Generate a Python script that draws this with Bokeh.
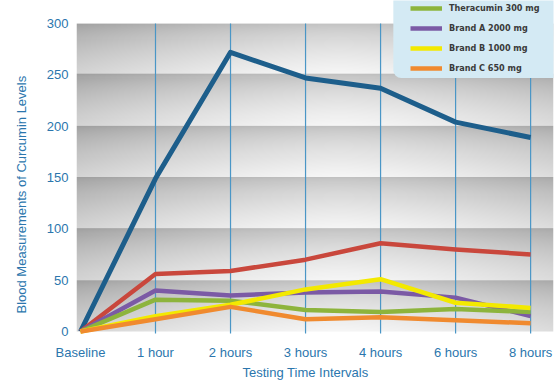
import numpy as np
from bokeh.plotting import figure
from bokeh.models import Range1d, Legend, LegendItem, FixedTicker, Title, BoxAnnotation
from bokeh.embed import file_html
from bokeh.resources import INLINE

# ---- data ----
categories = ["Baseline", "1 hour", "2 hours", "3 hours", "4 hours", "6 hours", "8 hours"]
series_blue = [0, 149, 272, 247, 237, 204, 189]
series_red = [0, 56, 59, 70, 86, 80, 75]
theracumin = [0, 31, 30, 21, 19, 22, 19]
brand_a = [0, 40, 35, 38, 39, 33, 15]
brand_b = [0, 15, 26, 41, 51, 28, 23]
brand_c = [0, 12, 24, 12, 14, 11, 8]
y_ticks = [0, 50, 100, 150, 200, 250, 300]
x_title = "Testing Time Intervals"
y_title = "Blood Measurements of Curcumin Levels"

xs = list(range(len(categories)))

BLUE_TXT = "#2b76ad"
FONT = "Liberation Sans"

p = figure(width=559, height=385, output_backend="svg", toolbar_location=None,
           x_range=Range1d(-0.053, 6.305), y_range=Range1d(-8.77, 322.5),
           min_border_left=74, min_border_right=6, min_border_top=0, min_border_bottom=45)
p.background_fill_color = "white"
p.border_fill_color = "white"
p.outline_line_color = None
p.xgrid.visible = False
p.ygrid.visible = False

# ---- shaded background bands (decoration) ----
H, W = 300, 480
yy = np.arange(H)[:, None]
xx = np.arange(W)[None, :]
val = yy * 300.0 / H
t = 1.0 - (val % 50) / 50.0          # 0 at band top, 1 at band bottom
cx = np.abs(xx / W - 0.55) / 0.55
g = 188 + 58 * t ** 0.6 - 34 * cx ** 1.5
g = np.clip(g, 150, 250).astype(np.uint32)
img = ((255 << 24) | (g << 16) | (g << 8) | g).astype(np.uint32)
p.image_rgba(image=[img], x=-0.053, y=0, dw=6.358, dh=300)

# vertical gridlines at categories
p.segment(x0=xs[1:], y0=[-2] * 6, x1=xs[1:], y1=[300] * 6, line_color="#4a96c6", line_width=1.2)

colors = {"blue": "#1d5e8b", "red": "#c9473c", "purple": "#7b5aa5",
          "green": "#8db43c", "yellow": "#f3e900", "orange": "#f08a2f"}

r_blue = p.line(xs, series_blue, line_color=colors["blue"], line_width=5, line_join="round")
r_red = p.line(xs, series_red, line_color=colors["red"], line_width=4.5, line_join="round")
r_a = p.line(xs, brand_a, line_color=colors["purple"], line_width=4.5, line_join="round")
r_t = p.line(xs, theracumin, line_color=colors["green"], line_width=4.5, line_join="round")
r_b = p.line(xs, brand_b, line_color=colors["yellow"], line_width=4.5, line_join="round")
r_c = p.line(xs, brand_c, line_color=colors["orange"], line_width=4.5, line_join="round")

# axes
p.xaxis.ticker = FixedTicker(ticks=xs)
p.xaxis.major_label_overrides = {i: c for i, c in enumerate(categories)}
p.yaxis.ticker = FixedTicker(ticks=y_ticks)
for ax in (p.xaxis[0], p.yaxis[0]):
    ax.axis_line_color = None
    ax.major_tick_line_color = None
    ax.minor_tick_line_color = None
    ax.major_label_text_color = BLUE_TXT
    ax.major_label_text_font = FONT
    ax.major_label_text_font_size = "13px"
p.xaxis.major_label_standoff = -2
p.yaxis.major_label_standoff = 2

# axis titles
p.add_layout(Title(text=y_title, align="left", vertical_align="top", offset=27, standoff=26,
                   text_color=BLUE_TXT, text_font=FONT, text_font_size="13px",
                   text_font_style="normal"), "left")
p.add_layout(Title(text=x_title, align="left", vertical_align="top", offset=166, standoff=5,
                   text_color=BLUE_TXT, text_font=FONT, text_font_size="13px",
                   text_font_style="normal"), "below")

# legend box
p.add_layout(BoxAnnotation(left=4.17, right=6.4, bottom=247, top=330,
                           fill_color="#d4eaf4", fill_alpha=1.0, line_color=None,
                           border_radius=8))

legend = Legend(items=[
    LegendItem(label="Theracumin 300 mg", renderers=[r_t]),
    LegendItem(label="Brand A 2000 mg", renderers=[r_a]),
    LegendItem(label="Brand B 1000 mg", renderers=[r_b]),
    LegendItem(label="Brand C 650 mg", renderers=[r_c]),
], location=(334, 262))
legend.background_fill_alpha = 0.0
legend.border_line_color = None
legend.padding = 4
legend.spacing = 0
legend.glyph_width = 32
legend.glyph_height = 20
legend.label_height = 20
legend.label_standoff = 7
legend.label_text_font = "DejaVu Sans Condensed"
legend.label_text_font_size = "9px"
legend.label_text_font_style = "bold"
legend.label_text_color = "#3a3a3a"
p.add_layout(legend, "center")

open("out.html", "w").write(file_html(p, INLINE))
